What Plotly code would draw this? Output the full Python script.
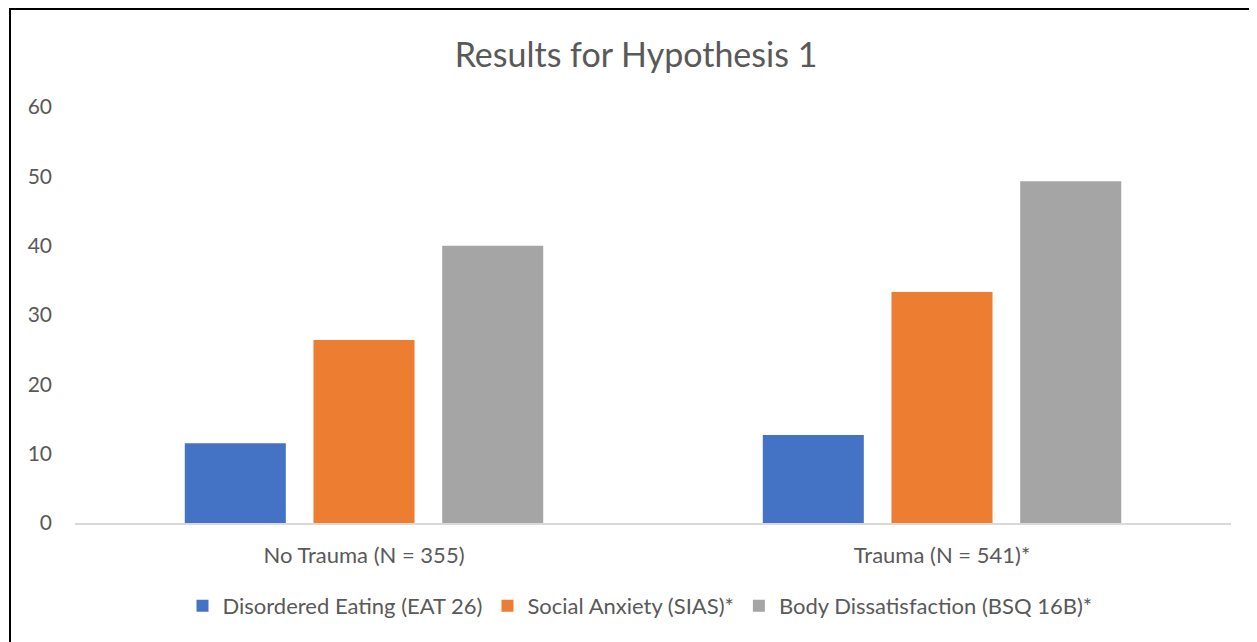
import plotly.graph_objects as go

categories = ["No Trauma (N = 355)", "Trauma (N = 541)*"]
series_names = ["Disordered Eating (EAT 26)", "Social Anxiety (SIAS)*", "Body Dissatisfaction (BSQ 16B)*"]
eat26 = [11.5, 12.7]
sias = [26.4, 33.3]
bsq = [40.0, 49.3]
colors = ["#4472C4", "#ED7D31", "#A5A5A5"]
y_ticks = [0, 10, 20, 30, 40, 50, 60]

OFF = 8  # page body margin
W, H = 1257 - OFF, 642 - OFF
L, T = 75 - OFF, 107 - OFF
R = W - (1231 - OFF)
B = H - (523 - OFF)
pw, ph = W - L - R, H - T - B

def px_x(p):
    return (p - OFF - L) / pw

def px_y(p):
    return (H - B - (p - OFF)) / ph

fig = go.Figure()
for name, vals, col in zip(series_names, [eat26, sias, bsq], colors):
    fig.add_trace(go.Bar(x=categories, y=vals, name=name, marker=dict(color=col, line=dict(width=0))))

txt = "#595959"
fig.update_layout(
    width=W, height=H,
    margin=dict(l=L, r=R, t=T, b=B),
    paper_bgcolor="white", plot_bgcolor="white",
    font=dict(family="Lato, sans-serif", color=txt, size=21),
    title=dict(text="Results for Hypothesis 1", x=px_x(636), xref="paper", xanchor="center",
               y=1 - (55 - OFF) / H, yanchor="middle", font=dict(size=34, color=txt)),
    barmode="group", bargap=0.332, bargroupgap=0.215,
    showlegend=True,
    legend=dict(orientation="h", x=px_x(640), xanchor="center", xref="paper",
                y=px_y(606), yanchor="middle", font=dict(size=22, color=txt),
                traceorder="normal", itemwidth=30),
    xaxis=dict(showgrid=False, showline=True, linecolor="#D9D9D9", linewidth=2,
               ticks="", tickfont=dict(size=22, color=txt), ticklabelstandoff=12),
    yaxis=dict(range=[0, 60], tickvals=y_ticks, showgrid=False, showline=False,
               zeroline=False, ticks="", tickfont=dict(size=21, color=txt),
               ticklabelstandoff=22),
    shapes=[dict(type="rect", xref="paper", yref="paper",
                 x0=px_x(10), x1=px_x(1252), y0=px_y(700), y1=px_y(9),
                 line=dict(color="black", width=2), fillcolor="rgba(0,0,0,0)", layer="above")],
)

fig.write_html("out.html")
